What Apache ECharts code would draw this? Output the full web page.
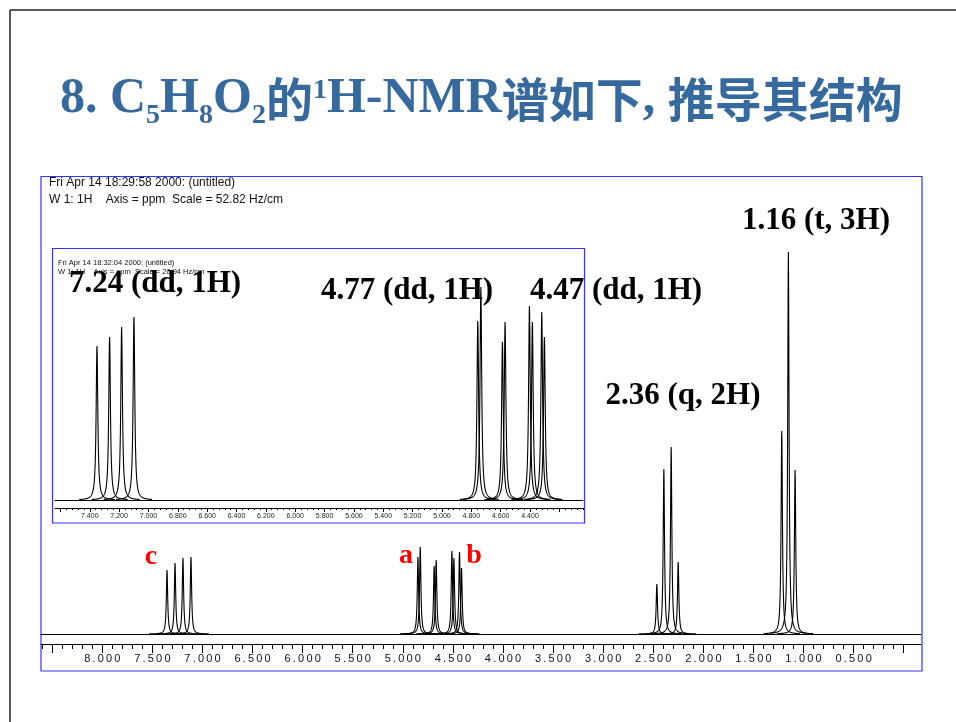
<!DOCTYPE html>
<html>
<head>
<meta charset="utf-8">
<script src="https://cdn.jsdelivr.net/npm/echarts@6/dist/echarts.min.js"></script>
<style>
  html, body { margin: 0; padding: 0; background: #fff; }
  #nmr { width: 956px; height: 722px; }
</style>
</head>
<body>
<div id="nmr"></div>
<script>
// 谱峰位置 (ppm) 和峰高 (基线以上, 读自原图)
var mainPeakPpm = [7.354, 7.274, 7.195, 7.115,
                   4.849, 4.826, 4.687, 4.667,
                   4.510, 4.490, 4.434, 4.414,
                   2.464, 2.394, 2.321, 2.251,
                   1.217, 1.151, 1.084];
var mainPeakHeight = [64, 71, 76, 77,
                      77, 87, 68, 74,
                      83, 76, 82, 66,
                      50, 165, 187, 72,
                      203, 382, 164];

// 放大图中的谱峰
var insetPeakPpm = [7.351, 7.265, 7.183, 7.099,
                    4.756, 4.735, 4.588, 4.570,
                    4.404, 4.384, 4.320, 4.302];
var insetPeakHeight = [154, 163, 173, 183,
                       179, 213, 158, 178,
                       194, 178, 188, 163];

// 刻度
var mainTickLabels = [8.0, 7.5, 7.0, 6.5, 6.0, 5.5, 5.0, 4.5, 4.0, 3.5, 3.0, 2.5, 2.0, 1.5, 1.0, 0.5];
var mainMajorTicks = [8.5].concat(mainTickLabels, [0]);
var insetTickLabels = [7.4, 7.2, 7.0, 6.8, 6.6, 6.4, 6.2, 6.0, 5.8, 5.6, 5.4, 5.2, 5.0, 4.8, 4.6, 4.4];
var insetMajorTicks = [7.6].concat(insetTickLabels, [4.2]);

var peakNotes = ['1.16 (t, 3H)', '7.24 (dd, 1H)', '4.77 (dd, 1H)', '4.47 (dd, 1H)', '2.36 (q, 2H)'];
var groupNotes = ['c', 'a', 'b'];

var mainRange = [-0.173, 8.612];
var insetRange = [4.039, 7.637];

function steps(from, to, step) {
  var out = [];
  for (var i = Math.round(from / step); i * step <= to + 1e-9; i++) out.push(+(i * step).toFixed(3));
  return out;
}
var mainMinorTicks = steps(0, 8.6, 0.1);
var insetMinorTicks = steps(4.04, 7.64, 0.04);

function spread(s) {
  return s.split('').join('\u2009');
}

// 每个峰画成一根洛伦兹线形的尖峰
function spike(halfWidth) {
  return function (params, api) {
    var base = api.coord([api.value(0), 0]);
    var top = api.coord([api.value(0), api.value(1)]);
    var h = base[1] - top[1];
    var g2 = halfWidth * halfWidth;
    var pts = [];
    for (var i = -90; i <= 90; i++) {
      var dx = i * 0.2;
      pts.push([base[0] + dx, base[1] - h * g2 / (g2 + dx * dx)]);
    }
    return {
      type: 'polyline',
      shape: { points: pts },
      style: { stroke: '#000', lineWidth: 1.1, fill: null }
    };
  };
}

function pairs(xs, ys) {
  return xs.map(function (x, i) { return [x, ys[i]]; });
}

var titleColor = '#36699d';
var boxColor = '#3434ff';
var serif = '"Liberation Serif", "Times New Roman", serif';
var sans = '"Liberation Sans", Arial, sans-serif';

function note(text, x, y, size, color) {
  return {
    type: 'text', z: 100,
    style: {
      text: text, x: x, y: y, font: 'bold ' + size + 'px ' + serif, fill: color,
      align: 'center', verticalAlign: 'middle', textAlign: 'center', textVerticalAlign: 'middle'
    }
  };
}

function header(text, x, y, size) {
  return {
    type: 'text',
    style: {
      text: text, x: x, y: y, font: size + 'px ' + sans, fill: '#111',
      verticalAlign: 'middle', textVerticalAlign: 'middle'
    }
  };
}

var myChart = echarts.init(document.getElementById('nmr'));

var option = {
  backgroundColor: '#fff',
  animation: false,
  title: {
    left: 55,
    top: 63,
    text: '{m|8. C}{s|5}{m|H}{s|8}{m|O}{s|2}{c|的}{p|1}{m|H-NMR}{c|谱如下}{m|, }{c|推导其结构}',
    textStyle: {
      rich: {
        m: { fontFamily: serif, fontWeight: 'bold', fontSize: 50, color: titleColor, lineHeight: 62, verticalAlign: 'middle' },
        c: { fontFamily: '"Noto Sans CJK SC"', fontWeight: 'bold', fontSize: 47, color: titleColor, lineHeight: 62, verticalAlign: 'middle' },
        s: { fontFamily: serif, fontWeight: 'bold', fontSize: 28, color: titleColor, lineHeight: 28, verticalAlign: 'bottom' },
        p: { fontFamily: serif, fontWeight: 'bold', fontSize: 28, color: titleColor, lineHeight: 28, verticalAlign: 'top', padding: [9, 0, 0, 0] }
      }
    }
  },
  grid: [
    { left: 41, right: 35, top: 200, bottom: 78 },
    { left: 41, right: 35, top: 200, bottom: 78 },
    { left: 55, right: 373, top: 262, bottom: 214 },
    { left: 55, right: 373, top: 262, bottom: 214 }
  ],
  xAxis: [
    {
      gridIndex: 0, type: 'value', inverse: true, min: mainRange[0], max: mainRange[1],
      position: 'bottom',
      axisLine: { onZero: false, lineStyle: { color: '#000', width: 1 } },
      axisTick: { customValues: mainMajorTicks, length: 9, lineStyle: { color: '#000' } },
      axisLabel: {
        customValues: mainTickLabels, margin: 9, color: '#111', fontSize: 11, fontFamily: sans,
        formatter: function (v) { return spread(v.toFixed(3)); }
      },
      splitLine: { show: false }
    },
    {
      gridIndex: 0, type: 'value', inverse: true, min: mainRange[0], max: mainRange[1],
      position: 'top',
      axisLine: { onZero: true, lineStyle: { color: '#000', width: 1 } },
      axisTick: { show: false }, axisLabel: { show: false }, splitLine: { show: false }
    },
    {
      gridIndex: 1, type: 'value', inverse: true, min: mainRange[0], max: mainRange[1],
      position: 'bottom',
      axisLine: { show: false, onZero: false },
      axisTick: { customValues: mainMinorTicks, length: 5, lineStyle: { color: '#000' } },
      axisLabel: { show: false }, splitLine: { show: false }
    },
    {
      gridIndex: 2, type: 'value', inverse: true, min: insetRange[0], max: insetRange[1],
      position: 'bottom',
      axisLine: { onZero: false, lineStyle: { color: '#000', width: 1 } },
      axisTick: { customValues: insetMajorTicks, length: 4, lineStyle: { color: '#000' } },
      axisLabel: {
        customValues: insetTickLabels, margin: 5, color: '#222', fontSize: 7, fontFamily: sans,
        formatter: function (v) { return v.toFixed(3); }
      },
      splitLine: { show: false }
    },
    {
      gridIndex: 2, type: 'value', inverse: true, min: insetRange[0], max: insetRange[1],
      position: 'top',
      axisLine: { onZero: true, lineStyle: { color: '#000', width: 1 } },
      axisTick: { show: false }, axisLabel: { show: false }, splitLine: { show: false }
    },
    {
      gridIndex: 3, type: 'value', inverse: true, min: insetRange[0], max: insetRange[1],
      position: 'bottom',
      axisLine: { show: false, onZero: false },
      axisTick: { customValues: insetMinorTicks, length: 2, lineStyle: { color: '#000' } },
      axisLabel: { show: false }, splitLine: { show: false }
    }
  ],
  yAxis: [
    { gridIndex: 0, type: 'value', min: -10, max: 434, show: false },
    { gridIndex: 1, type: 'value', min: -10, max: 434, show: false },
    { gridIndex: 2, type: 'value', min: -8, max: 238, show: false },
    { gridIndex: 3, type: 'value', min: -8, max: 238, show: false }
  ],
  series: [
    {
      type: 'custom', xAxisIndex: 0, yAxisIndex: 0,
      renderItem: spike(0.8),
      data: pairs(mainPeakPpm, mainPeakHeight)
    },
    {
      type: 'custom', xAxisIndex: 3, yAxisIndex: 2,
      renderItem: spike(1.0),
      data: pairs(insetPeakPpm, insetPeakHeight)
    }
  ],
  graphic: [
    // 幻灯片边框
    { type: 'line', shape: { x1: 10, y1: 10, x2: 956, y2: 10 }, style: { stroke: '#222', lineWidth: 1.5 } },
    { type: 'line', shape: { x1: 10, y1: 10, x2: 10, y2: 722 }, style: { stroke: '#222', lineWidth: 1.5 } },
    // 谱图外框和放大图外框
    { type: 'rect', shape: { x: 41, y: 176.5, width: 881, height: 494.5 }, style: { fill: null, stroke: boxColor, lineWidth: 1.2 } },
    { type: 'rect', shape: { x: 52.5, y: 248.5, width: 532, height: 274.5 }, style: { fill: null, stroke: boxColor, lineWidth: 1.2 } },
    header('Fri Apr 14 18:29:58 2000: (untitled)', 49, 183, 12),
    header('W 1: 1H    Axis = ppm  Scale = 52.82 Hz/cm', 49, 200, 12),
    header('Fri Apr 14 18:32:04 2000: (untitled)', 58, 263, 7.5),
    header('W 1: 1H    Axis = ppm  Scale = 20.94 Hz/cm', 58, 272, 7.5),
    // 峰的标注
    note(peakNotes[0], 816, 221, 31, '#000'),
    note(peakNotes[1], 155, 284, 31, '#000'),
    note(peakNotes[2], 407, 291, 31, '#000'),
    note(peakNotes[3], 616, 291, 31, '#000'),
    note(peakNotes[4], 683, 396, 31, '#000'),
    note(groupNotes[0], 151, 557, 28, '#ff0000'),
    note(groupNotes[1], 406, 556, 28, '#ff0000'),
    note(groupNotes[2], 474, 556, 28, '#ff0000')
  ]
};

myChart.setOption(option);
</script>
</body>
</html>
